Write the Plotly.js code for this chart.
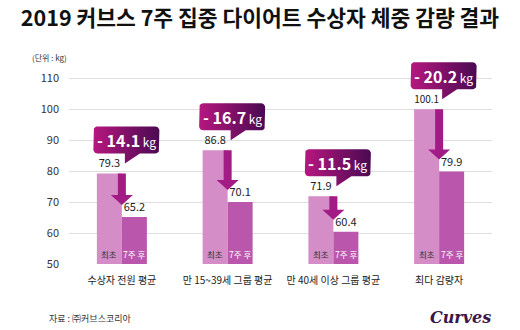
<!DOCTYPE html>
<html>
<head>
<meta charset="utf-8">
<script src="https://cdn.plot.ly/plotly-3.0.1.min.js"></script>
<style>html,body{margin:0;padding:0;background:#fff;}#chart{width:520px;height:330px;}</style>
</head>
<body>
<div id="chart"></div>
<script>
// ---- data ----
const categories = ['수상자 전원 평균', '만 15~39세 그룹 평균', '만 40세 이상 그룹 평균', '최다 감량자'];
const before = [79.3, 86.8, 71.9, 100.1];
const after = [65.2, 70.1, 60.4, 79.9];
const barLabels = ['최초', '7주 후'];
const yTicks = [50, 60, 70, 80, 90, 100, 110];

// ---- layout constants ----
const W = 520, H = 330;
const M = {l: 69, r: 28, t: 57, b: 66};
const yRange = [50, 117];
const xRange = [-0.5, 3.5];
const pxX = (W - M.l - M.r) / (xRange[1] - xRange[0]);
const pxY = (H - M.t - M.b) / (yRange[1] - yRange[0]);
const FONT = '"Noto Sans CJK KR", "Noto Sans", sans-serif';
const barW = 25 / pxX;           // one bar width in x units
const xs = categories.map((_, i) => i);

const traces = [
  {type: 'bar', x: xs, y: before, name: barLabels[0], marker: {color: '#d48dc7'},
   text: before.map(v => v.toFixed(1)), textposition: 'outside', cliponaxis: false,
   textfont: {family: FONT, size: 11, color: '#222'}, hoverinfo: 'skip'},
  {type: 'bar', x: xs, y: after, name: barLabels[1], marker: {color: '#ba57ad'},
   text: after.map(v => v.toFixed(1)), textposition: 'outside', cliponaxis: false,
   textfont: {family: FONT, size: 11, color: '#222'}, hoverinfo: 'skip'}
];

// callout boxes (gradient filled polygons)
function px2x(p) { return p / pxX; }
function px2y(p) { return p / pxY; }
function callout(i) {
  const cx = i + px2x(4.5);
  const x0 = cx - px2x(33), x1 = cx + px2x(33);
  const y0 = before[i] + px2y(20), y1 = y0 + px2y(27);
  const r = 4, rx = px2x(r), ry = px2y(r);
  const tailL = i + px2x(3), tailR = i + px2x(18), tipY = before[i] + px2y(10);
  const X = [], Y = [];
  function arc(ccx, ccy, a0, a1) {
    for (let k = 0; k <= 6; k++) {
      const a = (a0 + (a1 - a0) * k / 6) * Math.PI / 180;
      X.push(ccx + rx * Math.cos(a)); Y.push(ccy + ry * Math.sin(a));
    }
  }
  arc(x1 - rx, y1 - ry, 90, 0);
  arc(x1 - rx, y0 + ry, 0, -90);
  X.push(tailR, tailL, tailL); Y.push(y0, tipY, y0);
  arc(x0 + rx, y0 + ry, -90, -180);
  arc(x0 + rx, y1 - ry, 180, 90);
  X.push(X[0]); Y.push(Y[0]);
  return {x: X, y: Y, cx: cx, cy: (y0 + y1) / 2};
}

const annotations = [];
const shapes = [];
xs.forEach(i => {
  const c = callout(i);
  traces.push({type: 'scatter', mode: 'lines', x: c.x, y: c.y, fill: 'toself',
    fillgradient: {type: 'horizontal', colorscale: [[0, '#b6177f'], [1, '#4a0a52']]},
    line: {width: 0, color: 'rgba(0,0,0,0)'}, hoverinfo: 'skip', showlegend: false, cliponaxis: false});
  const diff = (before[i] - after[i]).toFixed(1);
  annotations.push({x: c.cx, y: c.cy, xref: 'x', yref: 'y', showarrow: false,
    text: '<b><span style="font-size:16px">- ' + diff + '</span></b> <span style="font-size:12px">kg</span>',
    font: {family: FONT, color: '#fff', size: 12}, xanchor: 'center', yanchor: 'middle'});
  // down arrow
  const sw = px2x(4), hw = px2x(11);
  const yTip = after[i] + px2y(12), yHead = yTip + px2y(10);
  shapes.push({type: 'path', xref: 'x', yref: 'y', layer: 'above',
    path: `M ${i - sw},${before[i]} L ${i + sw},${before[i]} L ${i + sw},${yHead} L ${i + hw},${yHead} L ${i},${yTip} L ${i - hw},${yHead} L ${i - sw},${yHead} Z`,
    fillcolor: '#a31c85', line: {width: 0}});
  // labels inside bars
  annotations.push({x: i - barW / 2, y: yRange[0], xref: 'x', yref: 'y', yanchor: 'bottom', yshift: 2,
    showarrow: false, text: barLabels[0], font: {family: FONT, size: 8.5, color: '#333'}});
  annotations.push({x: i + barW / 2, y: yRange[0], xref: 'x', yref: 'y', yanchor: 'bottom', yshift: 2,
    showarrow: false, text: barLabels[1], font: {family: FONT, size: 8.5, color: '#fff'}});
});

annotations.push({xref: 'paper', yref: 'paper', x: (30 - M.l) / (W - M.l - M.r), y: (H - M.b - 57) / (H - M.t - M.b),
  xanchor: 'left', yanchor: 'middle', showarrow: false, text: '(단위 : kg)',
  font: {family: FONT, size: 8, color: '#333'}});
annotations.push({xref: 'paper', yref: 'paper', x: (47 - M.l) / (W - M.l - M.r), y: (H - M.b - 318) / (H - M.t - M.b),
  xanchor: 'left', yanchor: 'middle', showarrow: false, text: '자료 : ㈜커브스코리아',
  font: {family: FONT, size: 9, color: '#333'}});
annotations.push({xref: 'paper', yref: 'paper', x: (493 - M.l) / (W - M.l - M.r), y: (H - M.b - 317) / (H - M.t - M.b),
  xanchor: 'right', yanchor: 'middle', showarrow: false, text: '<b><i>Curves</i></b>',
  font: {family: '"DejaVu Serif", serif', size: 16, color: '#3b1648'}});

const layout = {
  width: W, height: H, margin: M,
  paper_bgcolor: '#fff', plot_bgcolor: '#fff',
  title: {text: '<b>2019 커브스 7주 집중 다이어트 수상자 체중 감량 결과</b>',
    font: {family: FONT, size: 21.5, color: '#111'},
    x: 0.5, xref: 'container', xanchor: 'center', y: 1 - 18 / H, yref: 'container', yanchor: 'middle'},
  barmode: 'group', bargap: 1 - 2 * barW, bargroupgap: 0,
  showlegend: false,
  xaxis: {range: xRange, tickvals: xs, ticktext: categories, showgrid: false, zeroline: false,
    tickangle: 0, ticks: '', ticklabelstandoff: 9, tickfont: {family: FONT, size: 10, color: '#222'}, fixedrange: true},
  yaxis: {range: yRange, tickvals: yTicks, showgrid: true, gridcolor: '#dedede', gridwidth: 1,
    zeroline: false, ticks: '', ticklabelstandoff: 9, tickfont: {family: FONT, size: 11, color: '#333'}, fixedrange: true},
  annotations: annotations,
  shapes: shapes
};

Plotly.newPlot('chart', traces, layout, {displayModeBar: false, staticPlot: true});
</script>
</body>
</html>
